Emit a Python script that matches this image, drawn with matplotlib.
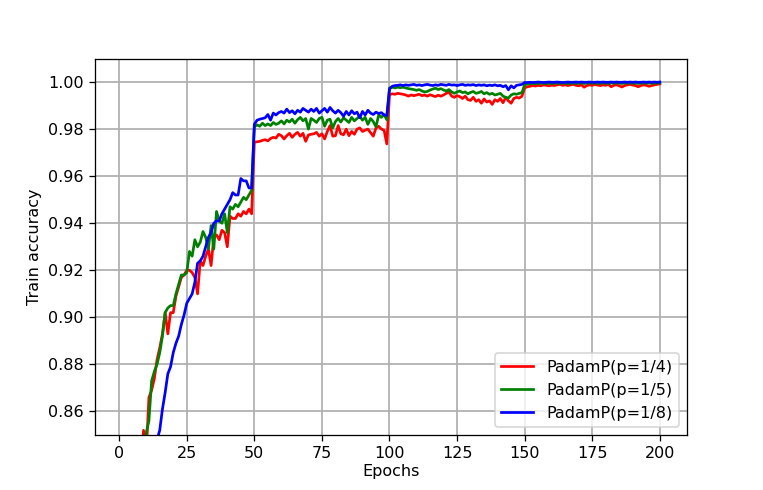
import numpy as np
import matplotlib
matplotlib.use('Agg')
import matplotlib.pyplot as plt


####################################################
# Train accuracy per epoch, epochs 1..200
epochs = list(range(1, 201))

acc_p4 = [
    0.710, 0.760, 0.790, 0.810, 0.823, 0.830, 0.835, 0.835, 0.852,
    0.842, 0.866, 0.869, 0.874, 0.882, 0.887, 0.893, 0.902, 0.893, 0.902,
    0.902, 0.909, 0.913, 0.917, 0.918, 0.920, 0.920, 0.919, 0.917, 0.910,
    0.924, 0.922, 0.926, 0.929, 0.922, 0.934, 0.935, 0.933, 0.937, 0.936,
    0.930, 0.943, 0.942, 0.942, 0.944, 0.943, 0.945, 0.944, 0.946, 0.944,
    0.9745, 0.9746, 0.9748, 0.9752, 0.9755, 0.9750, 0.9760, 0.9765, 0.9762, 0.9778,
    0.9772, 0.9758, 0.9772, 0.9782, 0.9765, 0.9778, 0.9786, 0.9770, 0.9782, 0.9748,
    0.9775, 0.9778, 0.9780, 0.9786, 0.9770, 0.9780, 0.9758, 0.9790, 0.9815, 0.9770,
    0.9772, 0.9815, 0.9780, 0.9776, 0.9800, 0.9772, 0.9790, 0.9778, 0.9800, 0.9805,
    0.9790, 0.9795, 0.9800, 0.9785, 0.9770, 0.9805, 0.9812, 0.9800, 0.9795, 0.9737,
    0.9946, 0.9950, 0.9948, 0.9952, 0.9950, 0.9948, 0.9945, 0.9940, 0.9945, 0.9942,
    0.9945, 0.9948, 0.9942, 0.9945, 0.9940, 0.9946, 0.9942, 0.9938, 0.9944, 0.9940,
    0.9945, 0.9952, 0.9958, 0.9940, 0.9935, 0.9942, 0.9938, 0.9930, 0.9940, 0.9925,
    0.9922, 0.9935, 0.9918, 0.9925, 0.9910, 0.9928, 0.9915, 0.9920, 0.9905, 0.9925,
    0.9918, 0.9930, 0.9912, 0.9935, 0.9920, 0.9910, 0.9930, 0.9935, 0.9932, 0.9940,
    0.9975, 0.9980, 0.9982, 0.9985, 0.9983, 0.9986, 0.9984, 0.9988, 0.9986, 0.9984,
    0.9987, 0.9985, 0.9988, 0.9990, 0.9986, 0.9988, 0.9985, 0.9988, 0.9990, 0.9986,
    0.9984, 0.9988, 0.9978, 0.9985, 0.9988, 0.9986, 0.9990, 0.9987, 0.9985, 0.9988,
    0.9986, 0.9990, 0.9980, 0.9986, 0.9988, 0.9984, 0.9979, 0.9985, 0.9988, 0.9990,
    0.9987, 0.9985, 0.9980, 0.9985, 0.9988, 0.9986, 0.9982, 0.9985, 0.9988, 0.9990,
    0.9992,
]

acc_p5 = [
    0.700, 0.750, 0.785, 0.805, 0.818, 0.828, 0.835, 0.840, 0.840,
    0.851, 0.856, 0.873, 0.877, 0.880, 0.885, 0.892, 0.902, 0.904, 0.905,
    0.905, 0.910, 0.914, 0.918, 0.918, 0.919, 0.928, 0.926, 0.933, 0.930,
    0.932, 0.9365, 0.934, 0.929, 0.939, 0.929, 0.945, 0.941, 0.940, 0.944,
    0.936, 0.947, 0.946, 0.948, 0.947, 0.949, 0.951, 0.950, 0.952, 0.954,
    0.9810, 0.9818, 0.9812, 0.9825, 0.9815, 0.9822, 0.9815, 0.9828, 0.9820, 0.9825,
    0.9835, 0.9822, 0.9838, 0.9830, 0.9842, 0.9825, 0.9840, 0.9850, 0.9835, 0.9845,
    0.9800, 0.9845, 0.9838, 0.9828, 0.9845, 0.9850, 0.9812, 0.9838, 0.9842, 0.9805,
    0.9832, 0.9845, 0.9830, 0.9848, 0.9838, 0.9828, 0.9850, 0.9835, 0.9845, 0.9855,
    0.9838, 0.9850, 0.9820, 0.9845, 0.9832, 0.9810, 0.9860, 0.9850, 0.9862, 0.9840,
    0.9975, 0.9978, 0.9975, 0.9978, 0.9976, 0.9978, 0.9975, 0.9972, 0.9970, 0.9968,
    0.9965, 0.9968, 0.9962, 0.9958, 0.9960, 0.9966, 0.9970, 0.9974, 0.9968, 0.9972,
    0.9966, 0.9962, 0.9968, 0.9958, 0.9952, 0.9958, 0.9962, 0.9955, 0.9958, 0.9950,
    0.9956, 0.9960, 0.9952, 0.9955, 0.9960, 0.9950, 0.9955, 0.9948, 0.9952, 0.9945,
    0.9948, 0.9952, 0.9940, 0.9935, 0.9932, 0.9945, 0.9950, 0.9948, 0.9952, 0.9955,
    0.9988, 0.9992, 0.9993, 0.9994, 0.9993, 0.9995, 0.9994, 0.9995, 0.9993, 0.9995,
    0.9994, 0.9996, 0.9995, 0.9994, 0.9996, 0.9995, 0.9993, 0.9995, 0.9996, 0.9994,
    0.9995, 0.9996, 0.9994, 0.9995, 0.9996, 0.9995, 0.9996, 0.9994, 0.9995, 0.9996,
    0.9995, 0.9994, 0.9996, 0.9995, 0.9996, 0.9995, 0.9994, 0.9996, 0.9995, 0.9996,
    0.9995, 0.9996, 0.9994, 0.9995, 0.9996, 0.9995, 0.9996, 0.9995, 0.9996, 0.9995,
    0.9996,
]

acc_p8 = [
    0.660, 0.720, 0.755, 0.780, 0.795, 0.808, 0.817, 0.825, 0.830,
    0.835, 0.838, 0.842, 0.845, 0.848, 0.852, 0.861, 0.868, 0.876, 0.879,
    0.885, 0.889, 0.892, 0.897, 0.901, 0.906, 0.908, 0.910, 0.915, 0.923,
    0.924, 0.926, 0.930, 0.934, 0.936, 0.940, 0.941, 0.941, 0.944, 0.946,
    0.948, 0.950, 0.953, 0.952, 0.952, 0.959, 0.958, 0.958, 0.955, 0.955,
    0.9820, 0.9838, 0.9842, 0.9845, 0.9848, 0.9862, 0.9838, 0.9868, 0.9860, 0.9870,
    0.9875, 0.9868, 0.9885, 0.9870, 0.9878, 0.9865, 0.9880, 0.9872, 0.9888, 0.9880,
    0.9872, 0.9885, 0.9875, 0.9888, 0.9868, 0.9878, 0.9888, 0.9872, 0.9892, 0.9878,
    0.9868, 0.9880, 0.9870, 0.9855, 0.9875, 0.9860, 0.9878, 0.9865, 0.9872, 0.9848,
    0.9875, 0.9860, 0.9880, 0.9868, 0.9862, 0.9872, 0.9866, 0.9870, 0.9860, 0.9858,
    0.9970, 0.9982, 0.9985, 0.9986, 0.9988, 0.9985, 0.9988, 0.9986, 0.9988, 0.9990,
    0.9986, 0.9988, 0.9985, 0.9988, 0.9990, 0.9987, 0.9985, 0.9988, 0.9986, 0.9990,
    0.9988, 0.9986, 0.9990, 0.9987, 0.9988, 0.9985, 0.9988, 0.9990, 0.9986, 0.9988,
    0.9987, 0.9989, 0.9985, 0.9988, 0.9986, 0.9988, 0.9984, 0.9987, 0.9985, 0.9988,
    0.9984, 0.9986, 0.9980, 0.9985, 0.9967, 0.9984, 0.9975, 0.9986, 0.9988, 0.9990,
    0.9998, 0.9998, 0.9999, 0.9998, 0.9999, 1.0000, 0.9999, 0.9998, 0.9999, 1.0000,
    0.9999, 0.9999, 1.0000, 0.9999, 0.9998, 0.9999, 1.0000, 0.9999, 0.9999, 1.0000,
    0.9999, 1.0000, 0.9999, 0.9999, 1.0000, 0.9999, 0.9999, 1.0000, 0.9999, 1.0000,
    0.9999, 0.9999, 1.0000, 0.9999, 1.0000, 0.9999, 0.9999, 1.0000, 0.9999, 1.0000,
    0.9999, 1.0000, 0.9999, 0.9999, 1.0000, 0.9999, 1.0000, 0.9999, 1.0000, 0.9999,
    1.0000,
]

labels = ['PadamP(p=1/4)', 'PadamP(p=1/5)', 'PadamP(p=1/8)']
####################################################


# 763x490 px at dpi 115
fig = plt.figure(figsize=(763 / 115, 490 / 115), dpi=115)
ax = fig.add_axes([0.1245, 0.1122, 0.7755, 0.7684])

ax.plot(epochs, acc_p4, color='r', linewidth=1.7, label=labels[0])
ax.plot(epochs, acc_p5, color='g', linewidth=1.7, label=labels[1])
ax.plot(epochs, acc_p8, color='b', linewidth=1.7, label=labels[2])

ax.set_ylim(0.85, 1.01)
ax.set_xticks(np.arange(0, 201, 25))
ax.set_yticks(np.arange(0.86, 1.001, 0.02))

ax.set_xlabel('Epochs', labelpad=2)
ax.set_ylabel('Train accuracy')
ax.grid(True, color='#b0b0b0', linewidth=1.1)
ax.legend(loc='lower right')

plt.savefig('out.png', dpi=115)
